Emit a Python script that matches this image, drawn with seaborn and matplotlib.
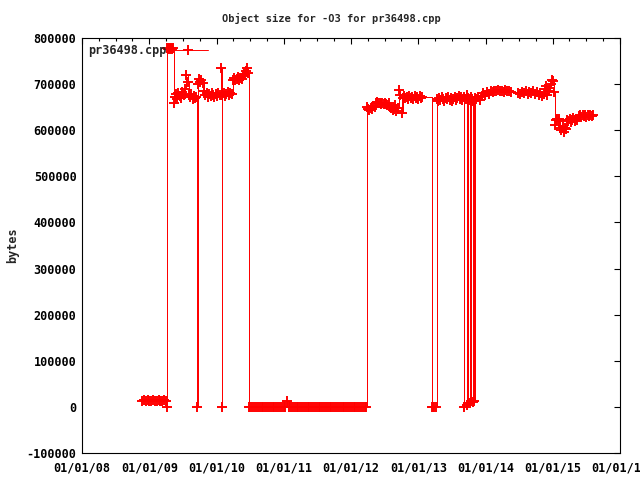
import pandas as pd
import matplotlib
matplotlib.use("Agg")
import matplotlib.pyplot as plt
import matplotlib.dates as mdates
from matplotlib.ticker import MultipleLocator, FormatStrFormatter
import seaborn as sns

# object size over time (dates and sizes in bytes)
dates_2009 = ['2008-11-22', '2008-12-02', '2008-12-12', '2008-12-22', '2009-01-01',
              '2009-01-11', '2009-01-21', '2009-01-31', '2009-02-10', '2009-02-20',
              '2009-03-02', '2009-03-12', '2009-03-22', '2009-04-01', '2009-04-05',
              '2009-04-07', '2009-04-12', '2009-04-17', '2009-04-22', '2009-04-27',
              '2009-05-02', '2009-05-07', '2009-05-14',
              '2009-05-18', '2009-05-25', '2009-06-01', '2009-06-08', '2009-06-15',
              '2009-06-22', '2009-06-29', '2009-07-06', '2009-07-13', '2009-07-20',
              '2009-07-27', '2009-08-03', '2009-08-10', '2009-08-17', '2009-08-24',
              '2009-08-31', '2009-09-07', '2009-09-12', '2009-09-16']
sizes_2009 = [13000, 14000, 12000, 14000, 13000,
              12000, 14000, 13000, 12000, 14000,
              13000, 12000, 14000, 13000, 0,
              778000, 776000, 779000, 777000, 778000,
              776000, 778000, 659000,
              672000, 678000, 668000, 680000, 674000,
              670000, 682000, 676000, 690000, 720000,
              705000, 676000, 672000, 678000, 668000,
              674000, 670000, 672000, 0]

dates_2010 = ['2009-09-20', '2009-09-27', '2009-10-04', '2009-10-11', '2009-10-18',
              '2009-10-25', '2009-11-01', '2009-11-08', '2009-11-15', '2009-11-22',
              '2009-11-29', '2009-12-06', '2009-12-13', '2009-12-20', '2009-12-27',
              '2010-01-03', '2010-01-10', '2010-01-17', '2010-01-24', '2010-01-29',
              '2010-02-02', '2010-02-09', '2010-02-16', '2010-02-23', '2010-03-02',
              '2010-03-09', '2010-03-16', '2010-03-23', '2010-03-30', '2010-04-06',
              '2010-04-13', '2010-04-20', '2010-04-27', '2010-05-04', '2010-05-11',
              '2010-05-18', '2010-05-25', '2010-06-01', '2010-06-08', '2010-06-15',
              '2010-06-20', '2010-06-24']
sizes_2010 = [700000, 712000, 705000, 708000, 702000,
              684000, 676000, 680000, 672000, 678000,
              674000, 680000, 676000, 672000, 678000,
              674000, 680000, 676000, 735000, 0,
              676000, 680000, 674000, 678000, 682000,
              676000, 680000, 678000, 710000, 714000,
              708000, 712000, 716000, 710000, 714000,
              712000, 718000, 722000, 728000, 735000,
              724000, 0]

dates_zero = ['2010-07-04', '2010-07-14', '2010-07-24', '2010-08-03', '2010-08-13',
              '2010-08-23', '2010-09-02', '2010-09-12', '2010-09-22', '2010-10-02',
              '2010-10-12', '2010-10-22', '2010-11-01', '2010-11-11', '2010-11-21',
              '2010-12-01', '2010-12-11', '2010-12-21', '2010-12-31', '2011-01-10',
              '2011-01-20', '2011-01-30', '2011-02-09', '2011-02-19', '2011-03-01',
              '2011-03-11', '2011-03-21', '2011-03-31', '2011-04-10', '2011-04-20',
              '2011-04-30', '2011-05-10', '2011-05-20', '2011-05-30', '2011-06-09',
              '2011-06-19', '2011-06-29', '2011-07-09', '2011-07-19', '2011-07-29',
              '2011-08-08', '2011-08-18', '2011-08-28', '2011-09-07', '2011-09-17',
              '2011-09-27', '2011-10-07', '2011-10-17', '2011-10-27', '2011-11-06',
              '2011-11-16', '2011-11-26', '2011-12-06', '2011-12-16', '2011-12-26',
              '2012-01-05', '2012-01-15', '2012-01-25', '2012-02-04', '2012-02-14',
              '2012-02-24', '2012-03-05', '2012-03-15', '2012-03-25']
sizes_zero = [0, 0, 0, 0, 0, 0, 0, 0, 0, 0,
              0, 0, 0, 0, 0, 0, 0, 0, 0, 0,
              13000, 0, 0, 0, 0, 0, 0, 0, 0, 0,
              0, 0, 0, 0, 0, 0, 0, 0, 0, 0,
              0, 0, 0, 0, 0, 0, 0, 0, 0, 0,
              0, 0, 0, 0, 0, 0, 0, 0, 0, 0,
              0, 0, 0, 0]

dates_2013 = ['2012-03-27', '2012-04-03', '2012-04-10', '2012-04-17', '2012-04-24',
              '2012-05-01', '2012-05-08', '2012-05-15', '2012-05-22', '2012-05-29',
              '2012-06-05', '2012-06-12', '2012-06-19', '2012-06-26', '2012-07-03',
              '2012-07-10', '2012-07-17', '2012-07-24', '2012-07-31', '2012-08-07',
              '2012-08-14', '2012-08-21', '2012-08-28', '2012-09-04', '2012-09-11',
              '2012-09-18', '2012-09-25', '2012-10-02', '2012-10-09', '2012-10-16',
              '2012-10-23', '2012-10-30', '2012-11-06', '2012-11-13', '2012-11-20',
              '2012-11-27', '2012-12-04', '2012-12-11', '2012-12-18', '2012-12-25',
              '2013-01-01', '2013-01-08', '2013-01-15', '2013-01-22',
              '2013-03-14', '2013-03-22', '2013-03-28', '2013-04-06',
              '2013-04-10', '2013-04-17', '2013-04-24', '2013-05-01', '2013-05-08',
              '2013-05-15', '2013-05-22', '2013-05-29', '2013-06-05', '2013-06-12',
              '2013-06-19', '2013-06-26', '2013-07-03', '2013-07-10', '2013-07-17',
              '2013-07-24', '2013-07-31', '2013-08-07', '2013-08-14', '2013-08-21',
              '2013-08-28', '2013-09-04', '2013-09-08', '2013-09-14', '2013-09-20',
              '2013-09-24', '2013-09-28', '2013-10-04', '2013-10-08', '2013-10-12',
              '2013-10-18', '2013-10-22', '2013-10-26', '2013-10-30', '2013-11-02']
sizes_2013 = [651000, 645000, 643000, 648000, 646000,
              652000, 650000, 660000, 662000, 658000,
              660000, 656000, 658000, 656000, 659000,
              657000, 655000, 658000, 650000, 648000,
              644000, 646000, 655000, 642000, 648000,
              688000, 676000, 638000, 670000, 674000,
              670000, 672000, 668000, 674000, 670000,
              672000, 668000, 674000, 670000, 672000,
              668000, 674000, 670000, 672000,
              0, 0, 0, 0,
              668000, 664000, 670000, 666000, 672000,
              668000, 664000, 670000, 667000, 672000,
              666000, 670000, 664000, 668000, 672000,
              666000, 670000, 674000, 668000, 672000,
              666000, 0, 672000, 668000, 676000,
              5000, 670000, 666000, 8000, 672000,
              668000, 10000, 664000, 13000, 670000]

dates_2015 = ['2013-11-10', '2013-11-20', '2013-11-30', '2013-12-10', '2013-12-20',
              '2013-12-30', '2014-01-09', '2014-01-19', '2014-01-29', '2014-02-08',
              '2014-02-18', '2014-02-28', '2014-03-10', '2014-03-20', '2014-03-30',
              '2014-04-09', '2014-04-19', '2014-04-29', '2014-05-09', '2014-05-19',
              '2014-06-28', '2014-07-08', '2014-07-18', '2014-07-28', '2014-08-07',
              '2014-08-17', '2014-08-27', '2014-09-06', '2014-09-16', '2014-09-26',
              '2014-10-06', '2014-10-16', '2014-10-26', '2014-11-05', '2014-11-12',
              '2014-11-19', '2014-11-26', '2014-12-03', '2014-12-10', '2014-12-17',
              '2014-12-24', '2014-12-29', '2015-01-03', '2015-01-08', '2015-01-15',
              '2015-01-20', '2015-01-26', '2015-02-01', '2015-02-06', '2015-02-11',
              '2015-02-17', '2015-02-23', '2015-03-01', '2015-03-07', '2015-03-13',
              '2015-03-19', '2015-03-26', '2015-04-02', '2015-04-09', '2015-04-16',
              '2015-04-23', '2015-04-30', '2015-05-07', '2015-05-14', '2015-05-22',
              '2015-05-29', '2015-06-05', '2015-06-12', '2015-06-19', '2015-06-26',
              '2015-07-03', '2015-07-10', '2015-07-17', '2015-07-24', '2015-07-31',
              '2015-08-10']
sizes_2015 = [668000, 672000, 666000, 674000, 680000,
              676000, 682000, 678000, 684000, 682000,
              686000, 684000, 688000, 684000, 686000,
              682000, 688000, 684000, 686000, 682000,
              680000, 678000, 682000, 680000, 684000,
              678000, 682000, 680000, 684000, 678000,
              682000, 676000, 680000, 674000, 678000,
              690000, 696000, 676000, 686000, 692000,
              700000, 710000, 706000, 683000, 612000,
              622000, 624000, 620000, 624000, 605000,
              600000, 606000, 597000, 604000, 602000,
              622000, 620000, 624000, 618000, 622000,
              626000, 620000, 624000, 622000, 630000,
              632000, 628000, 634000, 630000, 632000,
              628000, 634000, 630000, 632000, 630000,
              633000]

df = pd.DataFrame({
    'date': pd.to_datetime(dates_2009 + dates_2010 + dates_zero + dates_2013 + dates_2015),
    'bytes': sizes_2009 + sizes_2010 + sizes_zero + sizes_2013 + sizes_2015,
})

sns.set_style('white')
plt.rcParams['font.family'] = ['DejaVu Sans Mono']
plt.rcParams['font.weight'] = 'bold'
plt.rcParams['font.size'] = 8.5

fig = plt.figure(figsize=(6.4, 4.8), dpi=100)
ax = fig.add_axes([82 / 640, 27 / 480, 538 / 640, 415 / 480])

sns.lineplot(data=df, x='date', y='bytes', ax=ax, estimator=None, sort=False,
             color='#ff0000', linewidth=0.7, drawstyle='steps-post',
             marker='+', markersize=6.5, markeredgewidth=1.4,
             markeredgecolor='#ff0000', antialiased=False, label='pr36498.cpp')

ax.set_xlim(pd.Timestamp('2008-01-01'), pd.Timestamp('2016-01-01'))
ax.set_ylim(-100000, 800000)
ax.yaxis.set_major_locator(MultipleLocator(100000))
ax.yaxis.set_major_formatter(FormatStrFormatter('%d'))
ax.xaxis.set_major_locator(mdates.YearLocator())
ax.xaxis.set_minor_locator(mdates.MonthLocator(bymonth=[4, 7, 10]))
ax.xaxis.set_major_formatter(mdates.DateFormatter('%m/%d/%y'))

ax.tick_params(which='both', direction='in', top=True, right=True,
               color='black', width=0.8, labelsize=8.5, labelcolor='black')
ax.tick_params(which='major', length=4.5)
ax.tick_params(which='minor', length=2.5)
ax.tick_params(axis='x', which='major', pad=6)
ax.tick_params(axis='y', which='major', pad=4)
for s in ax.spines.values():
    s.set_color('black')
    s.set_linewidth(0.8)

fig.suptitle('Object size for -O3 for pr36498.cpp', x=0.517, y=1 - 18 / 480,
             va='center', fontsize=7.5, fontweight='bold')
ax.set_xlabel('')
ax.set_ylabel('bytes', fontsize=8.5, fontweight='bold', labelpad=5)

ax.legend(loc='upper left', frameon=False, markerfirst=False, handlelength=3.4,
          handletextpad=0.1, borderaxespad=0.3, borderpad=0.2,
          prop={'family': 'DejaVu Sans Mono', 'weight': 'bold', 'size': 8.5})

fig.savefig('out.png', dpi=100)
